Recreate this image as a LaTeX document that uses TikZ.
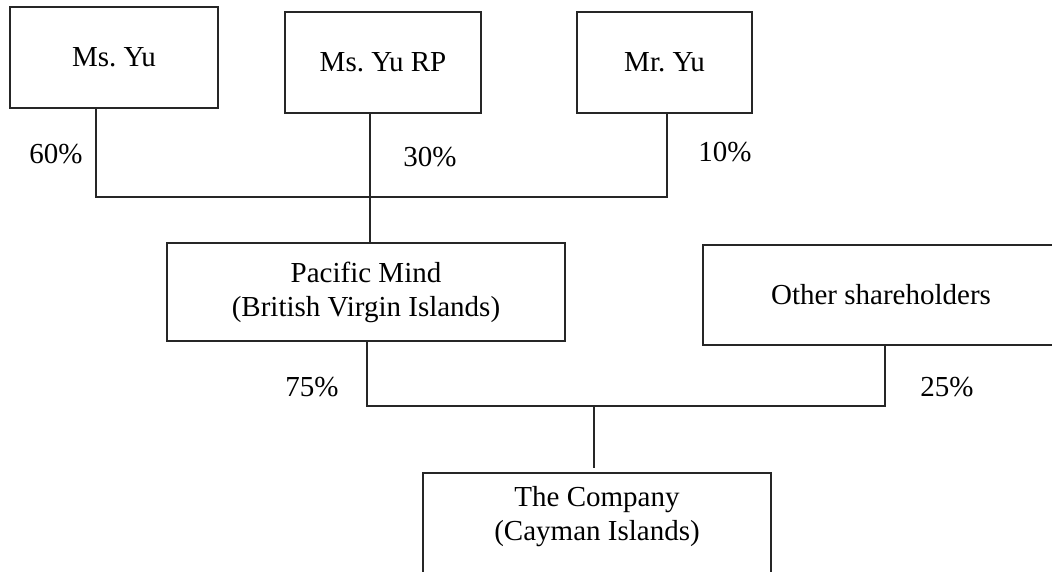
\documentclass[tikz,border=0pt]{standalone}
\usepackage{fontspec}
\setmainfont{Liberation Serif}
\frenchspacing
\begin{document}
\begin{tikzpicture}[x=1pt,y=-1pt,
  box/.style={draw=black!85, line width=1.2pt, inner sep=0pt},
  conn/.style={draw=black!85, line width=1.2pt},
  txt/.style={font=\fontsize{29}{34}\selectfont, align=center, inner sep=0pt},
  pct/.style={font=\fontsize{29}{34}\selectfont, inner sep=0pt}]
\useasboundingbox (0,0) rectangle (1052,572);
\clip (0,0) rectangle (1052,572);

% boxes
\node[box, txt, minimum width=208pt, minimum height=101pt] (msyu) at (114,57.5) {Ms.\ Yu};
\node[box, txt, minimum width=196pt, minimum height=101pt] (msyurp) at (383,62.5) {Ms.\ Yu RP};
\node[box, txt, minimum width=175pt, minimum height=101pt] (mryu) at (664.5,62.5) {Mr.\ Yu};
\node[box, txt, minimum width=398pt, minimum height=98pt] (pm) at (366,292) {Pacific Mind\\(British Virgin Islands)};
\node[box, txt, minimum width=356pt, minimum height=100pt] (other) at (881,295) {Other shareholders};
\node[box, minimum width=348pt, minimum height=130pt] (company) at (597,538) {};
\node[txt] (companytxt) at (597,517) {The Company\\(Cayman Islands)};

% junction coordinates
\coordinate (j1l) at (96,197);
\coordinate (j1r) at (667,197);
\coordinate (j2) at (370,197);
\coordinate (j3l) at (367,406);
\coordinate (j3r) at (885,406);
\coordinate (j3m) at (594,406);
\coordinate (j3e) at (594,468);

% connectors
\draw[conn] (msyu.south -| j1l) -- (j1l) -- (j1r) -- (mryu.south -| j1r);
\draw[conn] (msyurp.south -| j2) -- (pm.north -| j2);
\draw[conn] (pm.south -| j3l) -- (j3l) -- (j3r) -- (other.south -| j3r);
\draw[conn] (j3m) -- (j3e);

% percentages
\node[pct] (p60) at (56,154) {60\%};
\node[pct] (p30) at (430,157) {30\%};
\node[pct] (p10) at (725,152) {10\%};
\node[pct] (p75) at (312,387) {75\%};
\node[pct] (p25) at (947,387) {25\%};
\end{tikzpicture}
\end{document}
